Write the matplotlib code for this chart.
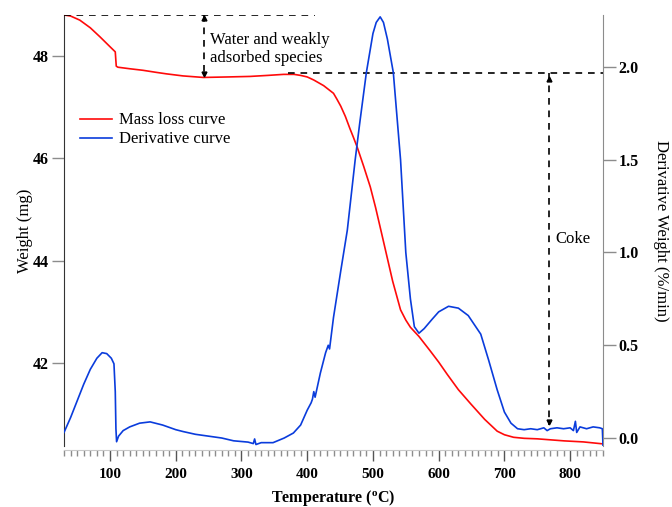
import matplotlib
matplotlib.use("Agg")
import matplotlib.pyplot as plt
from matplotlib.ticker import MultipleLocator

plt.rcParams['font.family'] = ['Liberation Serif', 'DejaVu Serif']
plt.rcParams['mathtext.fontset'] = 'custom'
plt.rcParams['mathtext.rm'] = 'Liberation Serif'
plt.rcParams['mathtext.bf'] = 'Liberation Serif:bold'

# Thermogravimetric mass loss (mg) vs temperature (degC)
mass_temp = [30, 40, 54, 70, 85, 100, 108, 109.5, 112, 130, 150, 170, 186, 211,
             242, 280, 313, 340, 364, 380, 390, 400, 410, 425, 440, 445, 451,
             458, 465, 470, 476, 486, 496, 504, 512, 521, 530, 542, 550, 557,
             570, 587, 600, 613, 630, 649, 670, 689, 700, 714, 730, 750, 791,
             820, 851]
mass_mg = [48.80, 48.78, 48.70, 48.55, 48.37, 48.18, 48.08, 47.80, 47.78, 47.75,
           47.72, 47.68, 47.65, 47.61, 47.58, 47.59, 47.60, 47.62, 47.64, 47.64,
           47.62, 47.59, 47.53, 47.42, 47.27, 47.16, 47.02, 46.82, 46.58, 46.42,
           46.22, 45.84, 45.44, 45.04, 44.60, 44.10, 43.60, 43.04, 42.84, 42.70,
           42.52, 42.24, 42.02, 41.78, 41.48, 41.20, 40.90, 40.67, 40.60, 40.55,
           40.53, 40.52, 40.48, 40.46, 40.42]

# Derivative weight (%/min) vs temperature (degC)
deriv_temp = [30, 40, 50, 60, 70, 80, 88, 95, 102, 106, 108, 109, 110, 113, 120,
              130, 145, 161, 180, 200, 211, 230, 250, 270, 288, 310, 318, 320,
              322, 330, 348, 365, 379, 390, 400, 406, 408, 410, 412, 420, 428,
              432, 434, 440, 451, 461, 473, 480, 490, 500, 505, 511, 516, 522,
              531, 542, 550, 557, 563, 570, 578, 590, 600, 615, 630, 645, 664,
              676, 689, 700, 710, 720, 730, 740, 750, 760, 765, 770, 780, 790,
              800, 805, 808, 810, 815, 825, 835, 845, 849, 850]
deriv_pct = [0.03, 0.11, 0.20, 0.29, 0.37, 0.43, 0.46, 0.455, 0.43, 0.40, 0.25,
             0.05, -0.02, 0.01, 0.04, 0.06, 0.08, 0.087, 0.07, 0.045, 0.035,
             0.02, 0.01, 0.0, -0.015, -0.022, -0.03, -0.005, -0.035, -0.025,
             -0.025, 0.0, 0.027, 0.07, 0.15, 0.19, 0.21, 0.25, 0.22, 0.35, 0.46,
             0.50, 0.48, 0.65, 0.90, 1.12, 1.50, 1.70, 1.97, 2.18, 2.24, 2.27,
             2.24, 2.15, 1.97, 1.50, 1.00, 0.75, 0.60, 0.565, 0.59, 0.64, 0.68,
             0.71, 0.70, 0.66, 0.56, 0.42, 0.26, 0.14, 0.08, 0.05, 0.045, 0.05,
             0.045, 0.055, 0.04, 0.05, 0.055, 0.05, 0.055, 0.04, 0.09, 0.03,
             0.06, 0.05, 0.06, 0.055, 0.05, -0.04]

x_ticks = [100, 200, 300, 400, 500, 600, 700, 800]
weight_ticks = [42, 44, 46, 48]
deriv_ticks = [0.0, 0.5, 1.0, 1.5, 2.0]

# Annotation levels
w_start = 48.80
w_plateau = 47.58
w_coke_top = 47.67
w_coke_bottom = 40.79
t_water = 243
t_coke = 768

RED = '#ff0a0a'
BLUE = '#0a3cdc'
GRAY = '#8c8c8c'

fig = plt.figure(figsize=(6.72, 5.07), dpi=100)
ax = fig.add_axes([64/672, 1 - 446/507, (603-64)/672, (446-15)/507])
ax2 = ax.twinx()

ax.plot(mass_temp, mass_mg, color=RED, lw=1.2, label='Mass loss curve', zorder=3)
ax2.plot(deriv_temp, deriv_pct, color=BLUE, lw=1.2, zorder=3)
ax.plot([], [], color=BLUE, lw=1.2, label='Derivative curve')

ax.set_xlim(30, 850)
ax.set_ylim(40.38, 48.80)
ax2.set_ylim(-0.043, 2.28)

# Dashed guide lines and arrows
dash = (0, (4, 3.5))
ax.plot([30, 412], [w_start, w_start], color='k', lw=1.2, ls=dash, zorder=4)
ax.plot([371, 850], [w_coke_top, w_coke_top], color='k', lw=1.2, ls=dash, zorder=4)
ax.plot([t_water, t_water], [w_start, w_plateau], color='k', lw=1.2, ls=dash, zorder=4)
ax.plot([t_water], [w_start - 0.06], marker='^', color='k', ms=3.5, zorder=5)
ax.plot([t_water], [w_plateau + 0.06], marker='v', color='k', ms=3.5, zorder=5)
ax.plot([t_coke, t_coke], [w_coke_top, w_coke_bottom], color='k', lw=1.2, ls=dash, zorder=4)
ax.plot([t_coke], [w_coke_top - 0.12], marker='^', color='k', ms=3.5, zorder=5)
ax.plot([t_coke], [w_coke_bottom + 0.06], marker='v', color='k', ms=3.5, zorder=5)

ax.text(252, 48.13, 'Water and weakly\nadsorbed species', fontsize=12,
        va='center', ha='left', linespacing=1.15)
ax.text(778, 44.43, 'Coke', fontsize=12, va='center', ha='left')

leg = ax.legend(loc='upper left', bbox_to_anchor=(0.03, 0.774), frameon=False,
                fontsize=12, handlelength=1.9, handletextpad=0.4,
                labelspacing=0.18, borderpad=0, borderaxespad=0)

# Axes styling
for a in (ax, ax2):
    a.spines['top'].set_visible(False)
ax.spines['right'].set_visible(False)
ax.spines['left'].set_color('#333333')
ax2.spines['left'].set_visible(False)
ax2.spines['bottom'].set_visible(False)
ax2.spines['right'].set_color(GRAY)
ax.spines['bottom'].set_color('#c8c8c8')
ax.spines['bottom'].set_position(('outward', 3))

ax.set_xticks(x_ticks)
ax.xaxis.set_minor_locator(MultipleLocator(10))
ax.set_yticks(weight_ticks)
ax2.set_yticks(deriv_ticks)
ax2.set_yticklabels([f'{v:.1f}' for v in deriv_ticks])

ax.tick_params(axis='x', which='major', direction='out', length=8, width=1,
               color='#555555', labelsize=11, pad=5)
ax.tick_params(axis='x', which='minor', direction='out', length=4, width=1,
               color=GRAY)
ax.tick_params(axis='y', direction='out', length=9, width=1, color=GRAY,
               labelsize=11.5, pad=2)
ax2.tick_params(axis='y', direction='out', length=9, width=1, color=GRAY,
                labelsize=11.5, pad=2)
for lab in ax.get_xticklabels() + ax.get_yticklabels() + ax2.get_yticklabels():
    lab.set_fontweight('bold')

ax.set_xlabel(r'Temperature ($\mathbf{^{o}}$C)', fontsize=11.5,
              fontweight='bold', labelpad=5)
ax.set_ylabel('Weight (mg)', fontsize=12, labelpad=0)
ax2.set_ylabel('Derivative Weight (%/min)', fontsize=12, rotation=270,
               labelpad=22)

fig.savefig('out.png', dpi=100)
